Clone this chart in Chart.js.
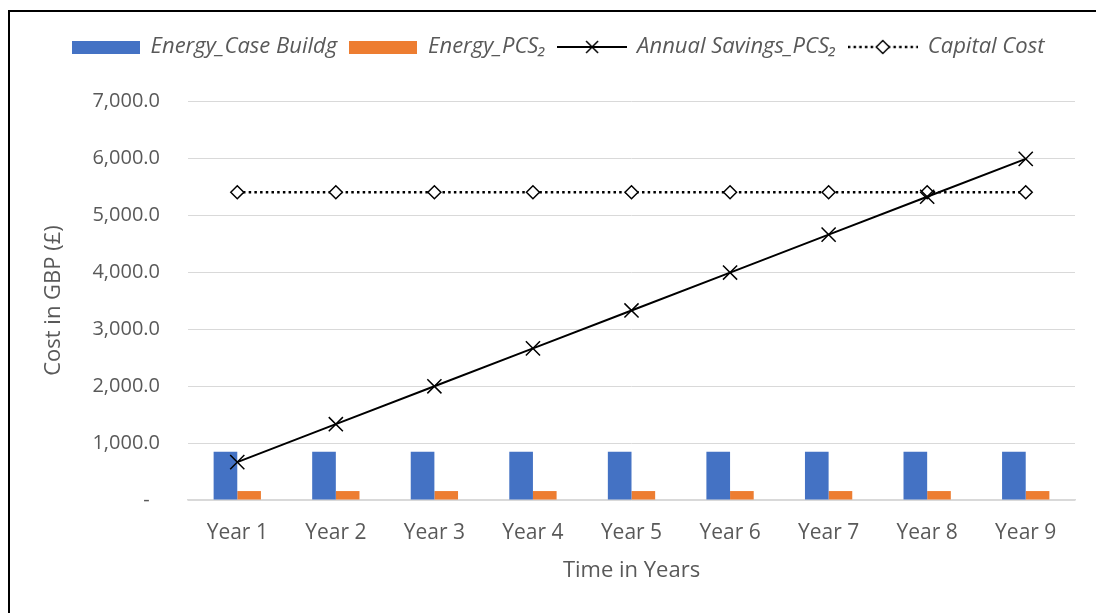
<!DOCTYPE html>
<html lang="en">
<head>
  <meta charset="UTF-8">
  <title>Cost in GBP over Years</title>
  <script src="https://cdn.jsdelivr.net/npm/chart.js"></script>
  <style>
    body {
      margin: 0;
      background-color: #fff;
      overflow: hidden;
    }
    .frame {
      position: absolute;
      left: 8px;
      top: 10px;
      width: 1200px;
      height: 700px;
      border-left: 2px solid #000;
      border-top: 2px solid #000;
    }
    .chart-container {
      position: absolute;
      left: 0;
      top: 0;
      width: 1096px;
      height: 613px;
    }
  </style>
</head>
<body>
  <div class="frame"></div>
  <div class="chart-container">
    <canvas id="costChart"></canvas>
  </div>

  <script>
    const years = ['Year 1', 'Year 2', 'Year 3', 'Year 4', 'Year 5', 'Year 6', 'Year 7', 'Year 8', 'Year 9'];
    const energyCaseBuildg = [845, 845, 845, 845, 845, 845, 845, 845, 845];
    const energyPCS2 = [157, 157, 157, 157, 157, 157, 157, 157, 157];
    const annualSavingsPCS2 = [665, 1330, 1995, 2660, 3325, 3990, 4655, 5320, 5985];
    const capitalCost = [5400, 5400, 5400, 5400, 5400, 5400, 5400, 5400, 5400];

    const textColor = '#595959';
    const fontFamily = '"Open Sans", Arial, sans-serif';

    // little pictures for the legend (bar swatch, line + marker)
    function barIcon(color) {
      const c = document.createElement('canvas');
      c.width = 68; c.height = 13;
      const g = c.getContext('2d');
      g.fillStyle = color;
      g.fillRect(0, 0, 68, 13);
      return c;
    }

    function lineIcon(dotted) {
      const c = document.createElement('canvas');
      c.width = 70; c.height = 16;
      const g = c.getContext('2d');
      g.strokeStyle = '#000';
      if (dotted) {
        g.lineWidth = 2.5;
        g.setLineDash([2.5, 3.2]);
      } else {
        g.lineWidth = 2;
      }
      g.beginPath();
      g.moveTo(0, 8);
      g.lineTo(70, 8);
      g.stroke();
      g.setLineDash([]);
      g.lineWidth = 1.5;
      g.beginPath();
      if (dotted) {
        g.moveTo(35 - 6.5, 8);
        g.lineTo(35, 1.5);
        g.lineTo(35 + 6.5, 8);
        g.lineTo(35, 14.5);
        g.closePath();
        g.fillStyle = '#fff';
        g.fill();
      } else {
        g.moveTo(29, 2); g.lineTo(41, 14);
        g.moveTo(41, 2); g.lineTo(29, 14);
      }
      g.stroke();
      return c;
    }

    const legendIcons = [barIcon('#4472C4'), barIcon('#ED7D31'), lineIcon(false), lineIcon(true)];

    // push the plot area down below the legend
    const legendSpacer = {
      id: 'legendSpacer',
      beforeInit(chart) {
        const origFit = chart.legend.fit;
        chart.legend.fit = function () {
          origFit.call(this);
          this.height += 33;
        };
      }
    };

    new Chart(document.getElementById('costChart'), {
      type: 'bar',
      data: {
        labels: years,
        datasets: [
          {
            label: 'Energy_Case Buildg',
            data: energyCaseBuildg,
            backgroundColor: '#4472C4',
            categoryPercentage: 0.48,
            barPercentage: 1.0,
            order: 1
          },
          {
            label: 'Energy_PCS\u2082',
            data: energyPCS2,
            backgroundColor: '#ED7D31',
            categoryPercentage: 0.48,
            barPercentage: 1.0,
            order: 1
          },
          {
            type: 'line',
            label: 'Annual Savings_PCS\u2082',
            data: annualSavingsPCS2,
            borderColor: '#000',
            borderWidth: 2,
            backgroundColor: '#000',
            pointStyle: 'crossRot',
            pointRadius: 10,
            pointHoverRadius: 10,
            pointBorderWidth: 1.5,
            pointBorderColor: '#000',
            tension: 0,
            fill: false,
            order: 0
          },
          {
            type: 'line',
            label: 'Capital Cost',
            data: capitalCost,
            borderColor: '#000',
            borderWidth: 2.5,
            borderDash: [2.5, 3.2],
            pointStyle: 'rectRot',
            pointRadius: 6.5,
            pointHoverRadius: 6.5,
            pointBorderWidth: 1.5,
            pointBorderColor: '#000',
            pointBackgroundColor: '#fff',
            tension: 0,
            fill: false,
            order: 0
          }
        ]
      },
      options: {
        responsive: true,
        maintainAspectRatio: false,
        animation: false,
        layout: {
          padding: { top: 24, left: 41, right: 21, bottom: 29 }
        },
        plugins: {
          tooltip: { enabled: false },
          legend: {
            position: 'top',
            labels: {
              usePointStyle: true,
              pointStyleWidth: 68,
              padding: 12,
              color: textColor,
              font: { family: fontFamily, size: 22, style: 'italic' },
              generateLabels(chart) {
                return chart.data.datasets.map((ds, i) => ({
                  text: ds.label,
                  pointStyle: legendIcons[i],
                  fillStyle: 'transparent',
                  strokeStyle: 'transparent',
                  lineWidth: 0,
                  fontColor: textColor,
                  hidden: false,
                  datasetIndex: i
                }));
              }
            }
          }
        },
        scales: {
          x: {
            grid: { display: false },
            border: { color: '#d9d9d9', width: 1.5 },
            ticks: {
              color: textColor,
              padding: 12,
              font: { family: fontFamily, size: 21 }
            },
            title: {
              display: true,
              text: 'Time in Years',
              color: textColor,
              padding: { top: 0, bottom: 0 },
              font: { family: fontFamily, size: 22 }
            },
            afterFit(scale) { scale.height = 84; }
          },
          y: {
            min: 0,
            max: 7000,
            grid: { color: '#d9d9d9', lineWidth: 1, drawTicks: false },
            border: { display: false },
            ticks: {
              stepSize: 1000,
              padding: 28,
              color: textColor,
              font: { family: fontFamily, size: 20 },
              callback(value) {
                if (value === 0) return '-  ';
                return value.toLocaleString('en-US', { minimumFractionDigits: 1, maximumFractionDigits: 1 });
              }
            },
            title: {
              display: true,
              text: 'Cost in GBP (\u00a3)',
              color: textColor,
              padding: { top: 0, bottom: 0 },
              font: { family: fontFamily, size: 22 }
            },
            afterFit(scale) { scale.width = 147; }
          }
        }
      },
      plugins: [legendSpacer]
    });
  </script>
</body>
</html>
